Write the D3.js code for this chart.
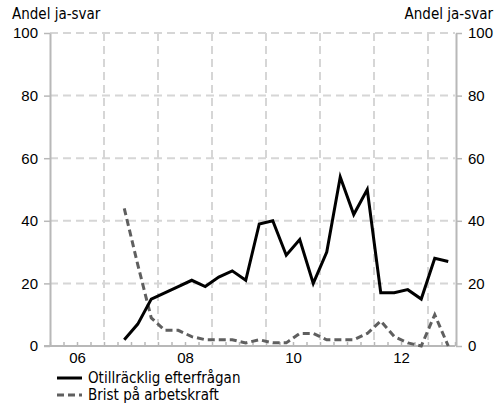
<!DOCTYPE html>
<html>
<head>
<meta charset="utf-8">
<script src="https://cdn.jsdelivr.net/npm/d3@7"></script>
<style>
  html, body { margin: 0; padding: 0; background: #fff; }
  svg { display: block; font-family: "DejaVu Sans Condensed", "DejaVu Sans", sans-serif; }
</style>
</head>
<body>
<svg id="chart" width="499" height="405"></svg>
<script>
// Quarterly survey: share answering yes (per cent)
const quarters = [
  "2007Q2","2007Q3","2007Q4",
  "2008Q1","2008Q2","2008Q3","2008Q4",
  "2009Q1","2009Q2","2009Q3","2009Q4",
  "2010Q1","2010Q2","2010Q3","2010Q4",
  "2011Q1","2011Q2","2011Q3","2011Q4",
  "2012Q1","2012Q2","2012Q3","2012Q4",
  "2013Q1","2013Q2"
];
const otillrackligEfterfragan = [2, 7, 15, 17, 19, 21, 19, 22, 24, 21, 39, 40, 29, 34, 20, 30, 54, 42, 50, 17, 17, 18, 15, 28, 27];
const bristPaArbetskraft     = [44, 26, 9, 5, 5, 3, 2, 2, 2, 1, 2, 1, 1, 4, 4, 2, 2, 2, 4, 8, 3, 1, 0, 10, 0];

const yTicks = [0, 20, 40, 60, 80, 100];
const xYearLabels = [2006, 2008, 2010, 2012];
const yearBounds = [2007, 2008, 2009, 2010, 2011, 2012, 2013];
const axisTitle = "Andel ja-svar";
const seriesNames = ["Otillräcklig efterfrågan", "Brist på arbetskraft"];

const toDecimal = q => +q.slice(0, 4) + (+q.slice(5) - 0.5) / 4;

const svg = d3.select("#chart");
const plotLeft = 50, plotRight = 455, plotTop = 33, plotBottom = 346;
const x = d3.scaleLinear().domain([2006, 2013.5]).range([plotLeft, plotRight]);
const y = d3.scaleLinear().domain([0, 100]).range([plotBottom, plotTop]);

const gridColor = "#d6d6d6", axisColor = "#b8b8b8";

// grid
const grid = svg.append("g");
grid.selectAll("line.h").data(yTicks.filter(v => v > 0)).join("line")
  .attr("x1", plotLeft).attr("x2", plotRight)
  .attr("y1", d => y(d)).attr("y2", d => y(d))
  .attr("stroke", gridColor).attr("stroke-width", 2).attr("stroke-dasharray", "8,5");
grid.selectAll("line.v").data(yearBounds).join("line")
  .attr("x1", d => x(d)).attr("x2", d => x(d))
  .attr("y1", plotTop).attr("y2", plotBottom)
  .attr("stroke", gridColor).attr("stroke-width", 2).attr("stroke-dasharray", "8,5");

function styleAxis(g) {
  g.selectAll(".domain").attr("stroke", axisColor).attr("stroke-width", 2);
  g.selectAll(".tick line").attr("stroke", axisColor).attr("stroke-width", 1.5);
  g.selectAll(".tick text").attr("fill", "#000").style("font-size", "15px")
    .style("font-family", "inherit");
}

// quarter minor ticks on the bottom axis
const quarterTicks = d3.range(0, 31).map(i => 2006 + i * 0.25);
svg.append("g").attr("transform", `translate(0,${plotBottom})`)
  .call(d3.axisBottom(x).tickValues(quarterTicks).tickSize(-4).tickSizeOuter(0).tickFormat(""))
  .call(styleAxis)
  .call(g => g.select(".domain").attr("d", `M${plotLeft - 6},0H${plotRight}`));

// year labels centred in each year
svg.append("g").attr("transform", `translate(0,${plotBottom})`)
  .call(d3.axisBottom(x).tickValues(xYearLabels.map(v => v + 0.5)).tickSize(0).tickPadding(6)
    .tickFormat(d => String(Math.floor(d) % 100).padStart(2, "0")))
  .call(styleAxis)
  .call(g => g.select(".domain").remove());

svg.append("g").attr("transform", `translate(${plotLeft},0)`)
  .call(d3.axisLeft(y).tickValues(yTicks).tickSize(6).tickSizeOuter(0).tickPadding(6))
  .call(styleAxis);
svg.append("g").attr("transform", `translate(${plotRight + 1},0)`)
  .call(d3.axisRight(y).tickValues(yTicks).tickSize(6).tickSizeOuter(0).tickPadding(6))
  .call(styleAxis);

svg.append("text").attr("x", 12).attr("y", 19).text(axisTitle)
  .style("font-size", "15px");
svg.append("text").attr("x", 493).attr("y", 19).attr("text-anchor", "end").text(axisTitle)
  .style("font-size", "15px");

// series
const line = d3.line().x(d => x(d[0])).y(d => y(d[1]));
const pts = vals => quarters.map((q, i) => [toDecimal(q), vals[i]]);

svg.append("path").datum(pts(bristPaArbetskraft))
  .attr("d", line).attr("fill", "none")
  .attr("stroke", "#5f5f5f").attr("stroke-width", 3).attr("stroke-dasharray", "7,4");
svg.append("path").datum(pts(otillrackligEfterfragan))
  .attr("d", line).attr("fill", "none")
  .attr("stroke", "#000").attr("stroke-width", 3).attr("stroke-linejoin", "miter");

// legend
const legend = svg.append("g");
const styles = [
  { stroke: "#000", dash: null, y: 378 },
  { stroke: "#5f5f5f", dash: "7,4", y: 395 }
];
seriesNames.forEach((name, i) => {
  const s = styles[i];
  legend.append("line").attr("x1", 57).attr("x2", 82).attr("y1", s.y).attr("y2", s.y)
    .attr("stroke", s.stroke).attr("stroke-width", 3).attr("stroke-dasharray", s.dash);
  legend.append("text").attr("x", 88).attr("y", s.y + 5).text(name).style("font-size", "15px");
});
</script>
</body>
</html>
